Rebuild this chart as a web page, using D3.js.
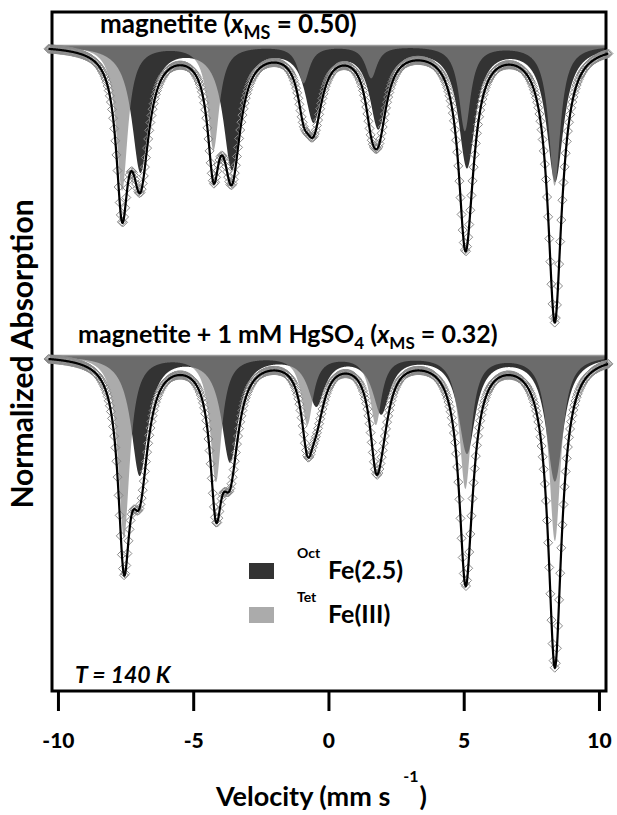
<!DOCTYPE html>
<html>
<head>
<meta charset="utf-8">
<script src="https://cdn.jsdelivr.net/npm/d3@7"></script>
<style>
  body { margin: 0; background: #fff; }
  text { font-family: Lato, "Open Sans", sans-serif; font-weight: bold; fill: #000; }
</style>
</head>
<body>
<div id="chart"></div>
<script>
// velocity ticks (mm/s)
const velTicks = [-10, -5, 0, 5, 10];

// sextet lines: positions (mm/s), depths (absorption units), half widths (mm/s)
// top spectrum: magnetite (x = 0.50)
const octPosTop = [-6.95, -3.57, -0.55, 1.84, 5.12, 8.38];
const octDepTop = [40.6, 39.4, 23.5, 25.8, 38.7, 43.5];
const tetPosTop = [-7.63, -4.25, -0.92, 1.58, 5.04, 8.36];
const tetDepTop = [46.8, 33.5, 11.9, 10.3, 27.4, 45.2];
// bottom spectrum: magnetite + 1 mM HgSO4 (x = 0.32)
const octPosBot = [-6.98, -3.64, -0.45, 1.95, 5.12, 8.37];
const octDepBot = [38.5, 33.9, 15.5, 18.1, 31.0, 40.3];
const tetPosBot = [-7.56, -4.16, -0.78, 1.75, 5.06, 8.37];
const tetDepBot = [58.6, 40.5, 21.9, 21.9, 42.6, 59.7];
const octWidth = 0.38, tetWidth = 0.26;

// baselines of the two stacked spectra (absorption units)
const baselines = [0, 100];

// svg size and plot frame
const svgW = 617, svgH = 815;
const frame = { left: 52, right: 606, top: 12, bottom: 691 };

const svg = d3.select('#chart').append('svg')
  .attr('width', svgW)
  .attr('height', svgH);

// velocity scale, frame spans a bit more than -10..10
const x = d3.scaleLinear()
  .domain([-10.22, 10.26])
  .range([frame.left, frame.right]);
// absorption goes downwards
const y = d3.scaleLinear()
  .domain([0, 208.4])
  .range([45, frame.bottom]);

// sum of lorentzian lines
function sextet(v, pos, dep, w) {
  return d3.sum(pos, (p, i) => dep[i] / (1 + ((v - p) / w) ** 2));
}

const spectra = [
  { base: baselines[0], oct: [octPosTop, octDepTop], tet: [tetPosTop, tetDepTop] },
  { base: baselines[1], oct: [octPosBot, octDepBot], tet: [tetPosBot, tetDepBot] }
];

// fine grid for curves, channel grid for the measured points
const fine = d3.range(-10.22, 10.26, 0.01);
const channels = d3.range(512).map(i => -10.35 + i * 20.7 / 511);

const fillG = svg.append('g');
spectra.forEach(s => {
  const oct = v => sextet(v, s.oct[0], s.oct[1], octWidth);
  const tet = v => sextet(v, s.tet[0], s.tet[1], tetWidth);
  fillG.append('path')
    .datum(fine)
    .attr('fill', '#333')
    .attr('d', d3.area().x(v => x(v)).y0(y(s.base)).y1(v => y(s.base + oct(v))));
  fillG.append('path')
    .datum(fine)
    .attr('fill', '#858585')
    .attr('fill-opacity', 0.69)
    .attr('d', d3.area().x(v => x(v)).y0(y(s.base)).y1(v => y(s.base + tet(v))));
  fillG.append('line')
    .attr('x1', x(-10.22)).attr('x2', x(10.26))
    .attr('y1', y(s.base) + 0.5).attr('y2', y(s.base) + 0.5)
    .attr('stroke', '#999').attr('stroke-width', 1.5);
});

// frame
svg.append('rect')
  .attr('x', frame.left).attr('y', frame.top)
  .attr('width', frame.right - frame.left)
  .attr('height', frame.bottom - frame.top)
  .attr('fill', 'none')
  .attr('stroke', '#000')
  .attr('stroke-width', 3);

// data points and fit line
const diamond = 'M0,-4.5L4.5,0L0,4.5L-4.5,0Z';
spectra.forEach(s => {
  const total = v => s.base + sextet(v, s.oct[0], s.oct[1], octWidth) + sextet(v, s.tet[0], s.tet[1], tetWidth);
  svg.append('g').selectAll('path')
    .data(channels)
    .join('path')
    .attr('d', diamond)
    .attr('transform', v => `translate(${x(v)},${y(total(v))})`)
    .attr('fill', 'none')
    .attr('stroke', '#8a8a8a')
    .attr('stroke-width', 1);
  svg.append('path')
    .datum(d3.range(-10.35, 10.35, 0.01))
    .attr('fill', 'none')
    .attr('stroke', '#000')
    .attr('stroke-width', 2.2)
    .attr('d', d3.line().x(v => x(v)).y(v => y(total(v))));
});

// x axis with ticks below the frame
const xAxis = svg.append('g')
  .attr('transform', `translate(0,${frame.bottom + 1})`)
  .call(d3.axisBottom(x).tickValues(velTicks).tickSize(19).tickPadding(22).tickFormat(d => String(d)));
xAxis.select('.domain').remove();
xAxis.selectAll('line').attr('stroke', '#000').attr('stroke-width', 3);
xAxis.selectAll('text')
  .style('font-family', 'Lato, sans-serif')
  .style('font-weight', '900')
  .style('font-size', '21px')
  .attr('fill', '#000');

// spectrum labels
const t1 = svg.append('text').attr('x', 100).attr('y', 33).style('font-size', '26px');
t1.append('tspan').text('magnetite (');
t1.append('tspan').style('font-style', 'italic').text('x');
t1.append('tspan').attr('dy', 6).style('font-size', '18px').text('MS');
t1.append('tspan').attr('dy', -6).text(' = 0.50)');

const t2 = svg.append('text').attr('x', 78).attr('y', 343).style('font-size', '25px');
t2.append('tspan').text('magnetite + 1 mM HgSO');
t2.append('tspan').attr('dy', 6).style('font-size', '17px').text('4');
t2.append('tspan').attr('dy', -6).text(' (');
t2.append('tspan').style('font-style', 'italic').text('x');
t2.append('tspan').attr('dy', 6).style('font-size', '17px').text('MS');
t2.append('tspan').attr('dy', -6).text(' = 0.32)');

// temperature
svg.append('text')
  .attr('x', 75).attr('y', 683)
  .style('font-size', '23px')
  .style('font-style', 'italic')
  .text('T = 140 K');

// legend
const legendItems = [
  { site: 'Oct', label: 'Fe(2.5)', fill: '#333', op: 1 },
  { site: 'Tet', label: 'Fe(III)', fill: '#858585', op: 0.69 }
];
const legend = svg.append('g').attr('transform', 'translate(249,563)');
legendItems.forEach((d, i) => {
  const row = legend.append('g').attr('transform', `translate(0,${i * 44})`);
  row.append('rect').attr('width', 25).attr('height', 16).attr('fill', d.fill).attr('fill-opacity', d.op);
  row.append('text').attr('x', 48).attr('y', -5).style('font-size', '14px').text(d.site);
  row.append('text').attr('x', 79).attr('y', 16).style('font-size', '25px').text(d.label);
});

// axis titles
const xt = svg.append('text')
  .attr('x', 216).attr('y', 806)
  .style('font-size', '27px');
xt.append('tspan').text('Velocity (mm s');
xt.append('tspan').attr('dx', 13).attr('dy', -24).style('font-size', '16px').text('-1');
xt.append('tspan').attr('dx', 1).attr('dy', 24).text(')');

svg.append('text')
  .attr('transform', 'translate(33,354) rotate(-90)')
  .attr('text-anchor', 'middle')
  .style('font-size', '30px')
  .text('Normalized Absorption');
</script>
</body>
</html>
